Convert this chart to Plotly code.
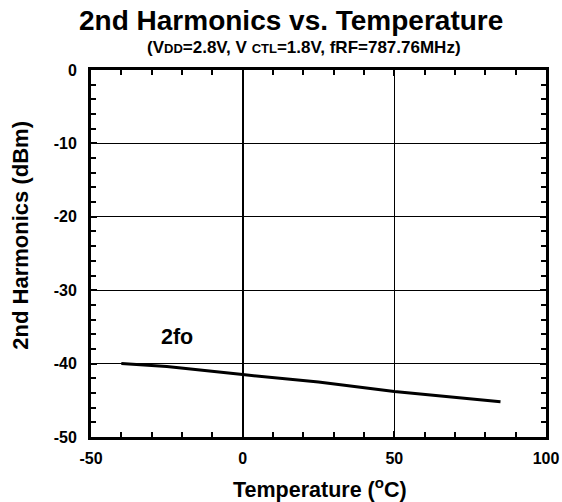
import plotly.graph_objects as go

temps = [-40, -25, 0, 25, 50, 85]
harm_2fo = [-40.0, -40.4, -41.5, -42.5, -43.8, -45.2]
x_ticks = [-50, 0, 50, 100]
y_ticks = [0, -10, -20, -30, -40, -50]

FONT = "Arial, Liberation Sans, sans-serif"

fig = go.Figure()
fig.add_trace(go.Scatter(x=temps, y=harm_2fo, mode="lines",
                         line=dict(color="black", width=3), showlegend=False))

axis_common = dict(
    showline=True, linecolor="black", linewidth=3, mirror="allticks",
    ticks="inside", ticklen=6, tickwidth=2, tickcolor="black",
    showgrid=True, gridcolor="black", gridwidth=1, automargin=False,
    tickfont=dict(family=FONT, size=16, color="black", weight="bold"),
)

fig.update_layout(
    width=562, height=502,
    margin=dict(l=91, r=16, t=70, b=65),
    paper_bgcolor="white", plot_bgcolor="white",
    font=dict(family=FONT, color="black"),
    xaxis=dict(
        range=[-50, 100], tickvals=x_ticks, ticktext=[str(v) for v in x_ticks],
        zeroline=True, zerolinecolor="black", zerolinewidth=2,
        minor=dict(dtick=10, ticks="inside", ticklen=5, tickwidth=2, tickcolor="black", showgrid=False),
        ticklabelstandoff=5,
        **axis_common,
    ),
    yaxis=dict(
        range=[-50, 0], tickvals=y_ticks, ticktext=[str(v) for v in y_ticks],
        zeroline=False,
        minor=dict(dtick=2, ticks="inside", ticklen=5, tickwidth=2, tickcolor="black", showgrid=False),
        ticklabelstandoff=8,
        **axis_common,
    ),
    annotations=[
        dict(text="2nd Harmonics vs. Temperature", xref="paper", yref="paper",
             x=0.44, y=1.134, xanchor="center", yanchor="middle", showarrow=False,
             font=dict(family=FONT, size=28, weight="bold", color="black")),
        dict(text="(V<span style='font-size:13px'>DD</span>=2.8V, V <span style='font-size:13px'>CTL</span>=1.8V, fRF=787.76MHz)",
             xref="paper", yref="paper",
             x=0.468, y=1.060, xanchor="center", yanchor="middle", showarrow=False,
             font=dict(family=FONT, size=17, weight="bold", color="black")),
        dict(text="Temperature (<sup>o</sup>C)", xref="paper", yref="paper",
             x=0.503, y=-0.140, xanchor="center", yanchor="middle", showarrow=False,
             font=dict(family=FONT, size=21.5, weight="bold", color="black")),
        dict(text="2nd Harmonics (dBm)", xref="paper", yref="paper", textangle=-90,
             x=-0.155, y=0.55, xanchor="center", yanchor="middle", showarrow=False,
             font=dict(family=FONT, size=22, weight="bold", color="black")),
        dict(text="2fo", x=-21.5, y=-36.4, xref="x", yref="y", showarrow=False,
             font=dict(family=FONT, size=21.5, weight="bold", color="black")),
    ],
)

fig.write_html("out.html", config={"displayModeBar": False},
               post_script="document.body.style.margin='0';")
